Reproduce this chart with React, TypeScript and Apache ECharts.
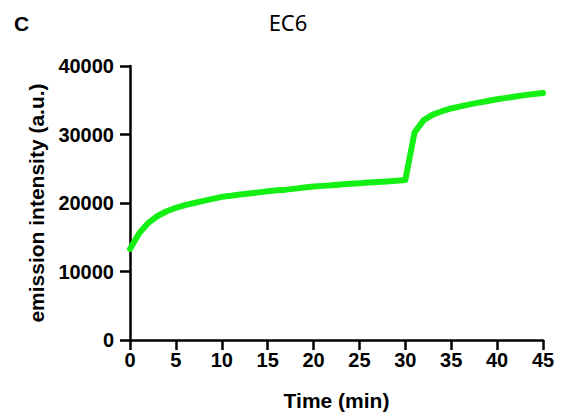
import React, { useEffect, useRef } from "react";
import * as echarts from "echarts";

const timeMin = [0,1,2,3,4,5,6,7,8,9,10,11,12,13,14,15,16,17,18,19,20,21,22,23,24,25,26,27,28,29,30,31,32,33,34,35,36,37,38,39,40,41,42,43,44,45];
const intensity = [13300,15600,17100,18100,18800,19300,19700,20000,20300,20600,20900,21050,21250,21400,21550,21700,21850,21950,22100,22250,22400,22500,22600,22700,22800,22900,22980,23060,23150,23250,23350,30300,32100,32900,33400,33800,34100,34400,34650,34900,35150,35350,35550,35750,35900,36050];

const panelLabel = "C";
const chartTitle = "EC6";
const xName = "Time (min)";
const yName = "emission intensity (a.u.)";

export default function App() {
  const ref = useRef<HTMLDivElement>(null);
  useEffect(() => {
    if (!ref.current) return;
    const chart = echarts.init(ref.current, undefined, { renderer: "svg" });
    const font = "'Liberation Sans', Arial, sans-serif";
    chart.setOption({
      animation: false,
      backgroundColor: "#fff",
      title: [
        { text: panelLabel, left: 9, top: 8, textStyle: { fontFamily: font, fontSize: 21, fontWeight: "bold", color: "#000" } },
        { text: chartTitle, left: 283, top: 6, textAlign: "center", textStyle: { fontFamily: "'Noto Sans', sans-serif", fontSize: 22, fontWeight: "normal", color: "#000" } },
      ],
      grid: { left: 130, right: 18, top: 66, bottom: 78, containLabel: false },
      xAxis: {
        type: "value",
        min: 0,
        max: 45,
        interval: 5,
        name: xName,
        nameLocation: "middle",
        nameGap: 50,
        nameTextStyle: { fontFamily: font, fontSize: 21, fontWeight: "bold", color: "#000" },
        axisLine: { lineStyle: { color: "#000", width: 2.5 } },
        axisTick: { length: 10, lineStyle: { color: "#000", width: 2.5 } },
        axisLabel: { fontFamily: font, fontSize: 20, fontWeight: "bold", color: "#000", margin: 10 },
        splitLine: { show: false },
      },
      yAxis: {
        type: "value",
        min: 0,
        max: 40000,
        interval: 10000,
        name: yName,
        nameLocation: "middle",
        nameGap: 81,
        nameRotate: 90,
        nameTextStyle: { fontFamily: font, fontSize: 21, fontWeight: "bold", color: "#000" },
        axisLine: { show: true, lineStyle: { color: "#000", width: 2.5 } },
        axisTick: { show: true, length: 10, lineStyle: { color: "#000", width: 2.5 } },
        axisLabel: { fontFamily: font, fontSize: 20, fontWeight: "bold", color: "#000", margin: 16, formatter: (v: number) => String(v) },
        splitLine: { show: false },
      },
      series: [
        {
          type: "line",
          data: timeMin.map((t, i) => [t, intensity[i]]),
          showSymbol: false,
          smooth: false,
          lineStyle: { color: "#14f014", width: 6, join: "round", cap: "round" },
          itemStyle: { color: "#14f014" },
        },
      ],
    });
    return () => chart.dispose();
  }, []);
  return <div ref={ref} style={{ width: 561, height: 418, position: "absolute", left: 0, top: 0 }} />;
}
